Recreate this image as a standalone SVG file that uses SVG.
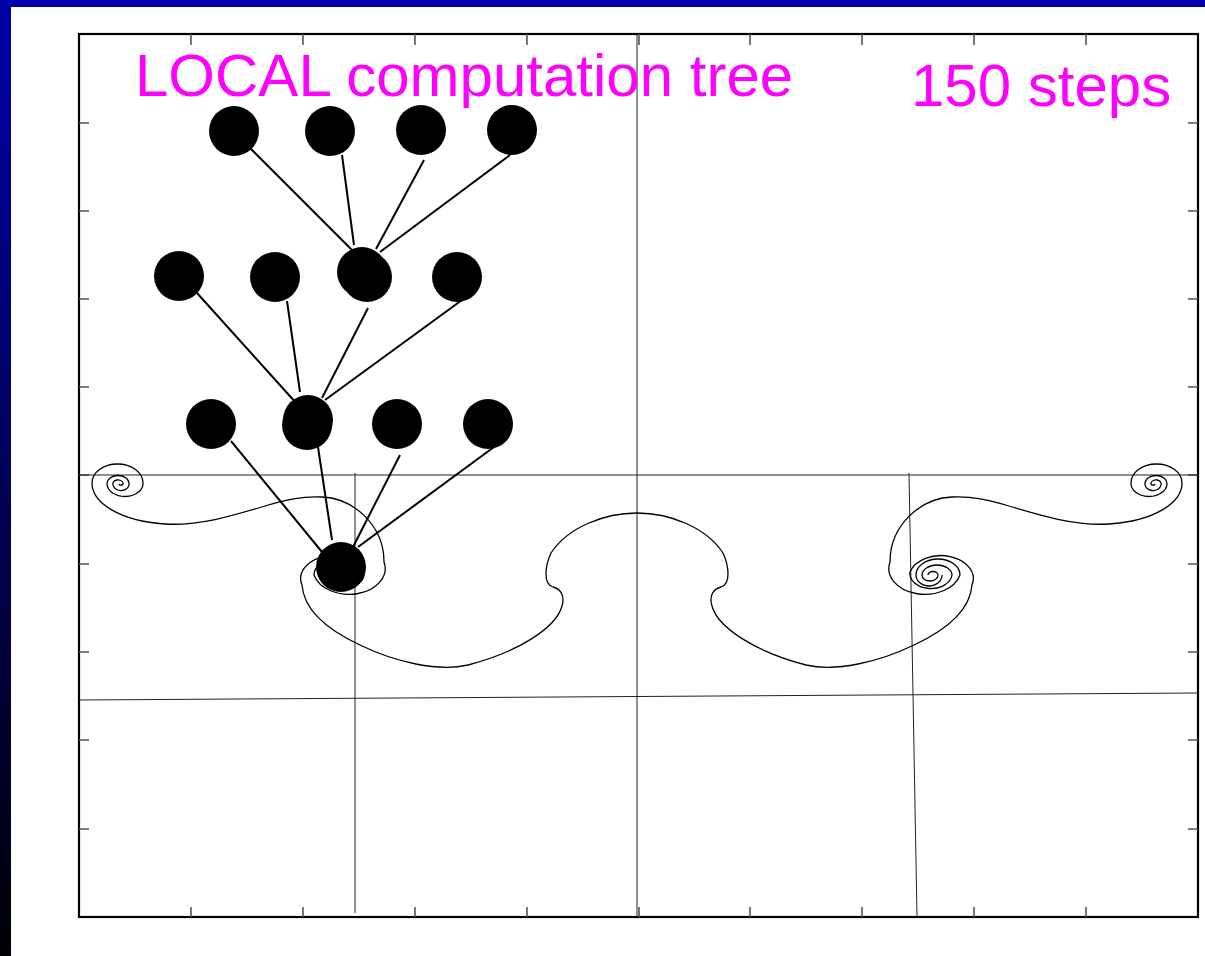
<svg xmlns="http://www.w3.org/2000/svg" xmlns:xlink="http://www.w3.org/1999/xlink" width="1205" height="956" viewBox="0 0 1205 956">
  <defs>
    <linearGradient id="sidebar" x1="0" y1="0" x2="0" y2="1">
      <stop offset="0" stop-color="#0000AA"/>
      <stop offset="1" stop-color="#000006"/>
    </linearGradient>
    <style>
      .frame { fill: none; stroke: #000; stroke-width: 2.2; }
      .tick { fill: none; stroke: #555; stroke-width: 1.6; }
      .grid { fill: none; stroke: #222; stroke-width: 1; }
      .sheet { fill: none; stroke: #000; stroke-width: 1.3; stroke-linejoin: round; }
      .edge { stroke: #000; stroke-width: 2; stroke-linecap: butt; }
      .node { fill: #000; }
      .label { font-family: "Liberation Sans", Arial, sans-serif; font-size: 60px; fill: #FF00FF; }
    </style>
  </defs>

  <!-- slide background with blue border -->
  <rect x="0" y="0" width="1205" height="956" fill="#FFFFFF"/>
  <rect x="0" y="0" width="1205" height="7" fill="#0000AA"/>
  <rect x="0" y="0" width="11" height="956" fill="url(#sidebar)"/>

  <!-- plot box and ticks -->
  <g id="axes">
    <rect class="frame" x="79" y="34" width="1119" height="883"/>
    <path class="tick" d="M79 123h10M79 211h10M79 299h10M79 387h10M79 475h10M79 564h10M79 652h10M79 740h10M79 829h10
      M1188 123h10M1188 211h10M1188 299h10M1188 387h10M1188 475h10M1188 564h10M1188 652h10M1188 740h10M1188 829h10
      M191 34v11M303 34v11M415 34v11M527 34v11M639 34v11M750 34v11M862 34v11M974 34v11M1086 34v11
      M191 917v-10M303 917v-10M415 917v-10M527 917v-10M639 917v-10M750 917v-10M862 917v-10M974 917v-10M1086 917v-10"/>
  </g>

  <!-- reference lines -->
  <g id="grid">
    <path class="grid" d="M637 34V917M79 475H1198M355 473V913M909 473L917 916M79 700L1198 693"/>
  </g>

  <!-- rolled-up vortex sheet: left half, mirrored about x = 637 -->
  <g id="sheet">
    <path id="sheet-half" class="sheet" d="M119 484
      A2 1.5 0 0 0 123 483 A5 4 0 0 0 113 485 A8 6.5 0 0 0 129 483
      A11 8 0 0 0 107 484 A18 13 0 0 0 143 483 A25.5 19 0 0 0 92 483
      C92 503 120 521 165 524 C200 526 235 515 265 506 C285 500 302 496 322 497
      C352 498 384 524 384 562
      A35 25 0 0 1 314 575 A22 16 0 0 1 358 575 A13 11 0 0 1 332 575
      M637 513 C605 513 568 527 551 553 C545 566 543 584 553 587
      C561 589 565 596 562 606 C556 628 518 652 468 665
      C438 672 395 662 360 645 C330 631 304 612 302 585
      A31 22 0 0 1 364 572 A21 15 0 0 1 322 575 A15 10 0 0 1 352 575
      A8 6 0 0 1 336 575 A5 3.5 0 0 1 346 575"/>
    <use xlink:href="#sheet-half" href="#sheet-half" transform="matrix(-1 0 0 1 1274 0)"/>
  </g>

  <!-- tree connectors -->
  <g id="edges">
    <line class="edge" x1="250" y1="148" x2="352" y2="250"/>
    <line class="edge" x1="342" y1="155" x2="354" y2="245"/>
    <line class="edge" x1="424" y1="160" x2="376" y2="249"/>
    <line class="edge" x1="510" y1="155" x2="380" y2="252"/>
    <line class="edge" x1="197" y1="293" x2="297" y2="404"/>
    <line class="edge" x1="287" y1="301" x2="300" y2="392"/>
    <line class="edge" x1="368" y1="308" x2="322" y2="398"/>
    <line class="edge" x1="462" y1="300" x2="325" y2="400"/>
    <line class="edge" x1="231" y1="441" x2="322" y2="552"/>
    <line class="edge" x1="318" y1="447" x2="332" y2="540"/>
    <line class="edge" x1="400" y1="455" x2="353" y2="547"/>
    <line class="edge" x1="494" y1="447" x2="358" y2="547"/>
  </g>

  <!-- tree nodes -->
  <g id="n1"><circle class="node" cx="234" cy="131" r="25"/></g>
  <g id="n2"><circle class="node" cx="330" cy="131" r="25"/></g>
  <g id="n3"><circle class="node" cx="421" cy="130" r="25"/></g>
  <g id="n4"><circle class="node" cx="512" cy="130" r="25"/></g>
  <g id="n5"><circle class="node" cx="179" cy="276" r="25"/></g>
  <g id="n6"><circle class="node" cx="275" cy="277" r="25"/></g>
  <g id="n7"><circle class="node" cx="362" cy="272" r="25"/><circle class="node" cx="367" cy="277" r="25"/></g>
  <g id="n8"><circle class="node" cx="457" cy="277" r="25"/></g>
  <g id="n9"><circle class="node" cx="211" cy="424" r="25"/></g>
  <g id="n10"><circle class="node" cx="308" cy="420" r="25"/><circle class="node" cx="307" cy="425" r="25"/></g>
  <g id="n11"><circle class="node" cx="397" cy="424" r="25"/></g>
  <g id="n12"><circle class="node" cx="488" cy="424" r="25"/></g>
  <g id="n13"><circle class="node" cx="341" cy="567" r="25"/></g>

  <!-- captions -->
  <text class="label" x="135" y="96">LOCAL computation tree</text>
  <text class="label" x="911" y="106">150 steps</text>
</svg>
